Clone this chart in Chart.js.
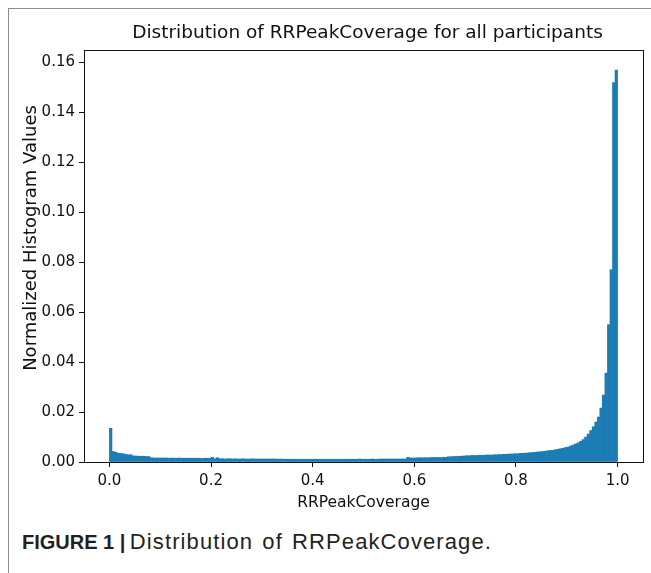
<!DOCTYPE html>
<html>
<head>
<meta charset="utf-8">
<script src="https://cdn.jsdelivr.net/npm/chart.js@4/dist/chart.umd.min.js"></script>
<style>
  html, body { margin: 0; padding: 0; background: #fff; }
  body { width: 651px; height: 573px; position: relative; overflow: hidden; }
  #frame { position: absolute; left: 8px; top: 8px; width: 700px; height: 700px;
           border-top: 1px solid #8c8c8c; border-left: 1px solid #8c8c8c; }
  #chart { position: absolute; left: 0; top: 0; }
  #caption { position: absolute; left: 22px; top: 529px; white-space: nowrap;
             font-family: "Liberation Sans", Arial, sans-serif; color: #231f20; }
  #caption b { font-size: 20px; }
  #caption span { font-size: 22px; letter-spacing: 1.1px; word-spacing: 2px; }
</style>
</head>
<body>
<div id="frame"></div>
<canvas id="chart" width="651" height="524"></canvas>
<div id="caption"><b>FIGURE 1 |</b> <span>Distribution of RRPeakCoverage.</span></div>
<script>
"use strict";

// ── data: 200 bins of width 0.005 over [0, 1] ─────────────────────
const BIN_WIDTH = 0.005;
const X_TICKS = [0.0, 0.2, 0.4, 0.6, 0.8, 1.0];
const Y_TICKS = [0.00, 0.02, 0.04, 0.06, 0.08, 0.10, 0.12, 0.14, 0.16];

// 0.000 – 0.200
const VALUES_A = [
  0.0135, 0.0042, 0.0039, 0.0035, 0.0034, 0.0033, 0.0030, 0.0029, 0.0029, 0.0024,
  0.0024, 0.0023, 0.0023, 0.0023, 0.0022, 0.0022, 0.0017, 0.0016, 0.0016, 0.0016,
  0.0016, 0.0016, 0.0016, 0.0015, 0.0016, 0.0015, 0.0015, 0.0016, 0.0015, 0.0015,
  0.0015, 0.0015, 0.0015, 0.0015, 0.0015, 0.0015, 0.0014, 0.0015, 0.0015, 0.0015,
];
// 0.200 – 0.400
const VALUES_B = [
  0.0019, 0.0013, 0.0017, 0.0013, 0.0013, 0.0012, 0.0013, 0.0013, 0.0012, 0.0013,
  0.0012, 0.0012, 0.0013, 0.0012, 0.0012, 0.0012, 0.0013, 0.0012, 0.0012, 0.0012,
  0.0012, 0.0012, 0.0012, 0.0012, 0.0012, 0.0012, 0.0011, 0.0012, 0.0011, 0.0011,
  0.0011, 0.0011, 0.0011, 0.0011, 0.0011, 0.0011, 0.0011, 0.0011, 0.0011, 0.0011,
];
// 0.400 – 0.600
const VALUES_C = [
  0.0011, 0.0011, 0.0011, 0.0011, 0.0011, 0.0011, 0.0011, 0.0011, 0.0011, 0.0011,
  0.0011, 0.0011, 0.0011, 0.0011, 0.0011, 0.0011, 0.0011, 0.0011, 0.0012, 0.0011,
  0.0011, 0.0011, 0.0011, 0.0012, 0.0011, 0.0011, 0.0012, 0.0012, 0.0012, 0.0012,
  0.0012, 0.0012, 0.0012, 0.0012, 0.0012, 0.0012, 0.0012, 0.0019, 0.0016, 0.0016,
];
// 0.600 – 0.800
const VALUES_D = [
  0.0016, 0.0017, 0.0017, 0.0017, 0.0017, 0.0017, 0.0018, 0.0018, 0.0018, 0.0018,
  0.0018, 0.0019, 0.0019, 0.0021, 0.0021, 0.0022, 0.0022, 0.0023, 0.0023, 0.0024,
  0.0025, 0.0025, 0.0026, 0.0026, 0.0026, 0.0027, 0.0027, 0.0027, 0.0028, 0.0028,
  0.0028, 0.0029, 0.0029, 0.0030, 0.0030, 0.0031, 0.0031, 0.0032, 0.0032, 0.0033,
];
// 0.800 – 1.000
const VALUES_E = [
  0.0033, 0.0034, 0.0035, 0.0035, 0.0036, 0.0037, 0.0038, 0.0039, 0.0040, 0.0041,
  0.0042, 0.0043, 0.0045, 0.0046, 0.0047, 0.0049, 0.0051, 0.0053, 0.0055, 0.0058,
  0.0060, 0.0064, 0.0068, 0.0072, 0.0077, 0.0083, 0.0090, 0.0100, 0.0112, 0.0126,
  0.0141, 0.0160, 0.0180, 0.0216, 0.0268, 0.0356, 0.0550, 0.0770, 0.1520, 0.1570,
];

const BAR_COLOR = "#1c7cb4";
const FONT = "'DejaVu Sans', sans-serif";

const values = [...VALUES_A, ...VALUES_B, ...VALUES_C, ...VALUES_D, ...VALUES_E];
const points = values.map((v, i) => ({ x: (i + 0.5) * BIN_WIDTH, y: v }));

// ── plugins: axes title, y label and the full axes box ───────────
const axesText = {
  id: "axesText",
  afterDraw(chart) {
    const { ctx, chartArea } = chart;
    ctx.save();
    ctx.fillStyle = "#111";
    ctx.textAlign = "center";
    ctx.textBaseline = "middle";
    ctx.font = `18.5px ${FONT}`;
    ctx.fillText("Distribution of RRPeakCoverage for all participants", (chartArea.left + chartArea.right) / 2 + 4, 33);
    // y label sits a little above the axes centre in the reference
    ctx.translate(31, 238);
    ctx.rotate(-Math.PI / 2);
    ctx.font = `18px ${FONT}`;
    ctx.fillText("Normalized Histogram Values", 0, 0);
    ctx.restore();
  },
};

const axesBox = {
  id: "axesBox",
  afterDraw(chart) {
    const { ctx, chartArea: a } = chart;
    ctx.save();
    ctx.strokeStyle = "#111";
    ctx.lineWidth = 1;
    ctx.strokeRect(Math.round(a.left) + 0.5, Math.round(a.top) + 0.5, Math.round(a.right - a.left), Math.round(a.bottom - a.top));
    ctx.restore();
  },
};

new Chart(document.getElementById("chart"), {
  type: "bar",
  data: {
    datasets: [{
      data: points,
      backgroundColor: BAR_COLOR,
      borderWidth: 0,
      barPercentage: 1,
      categoryPercentage: 1,
      grouped: false,
    }],
  },
  options: {
    responsive: false,
    devicePixelRatio: 1,
    animation: false,
    layout: { padding: { top: 50, right: 8, left: 0, bottom: 0 } },
    plugins: { legend: { display: false }, tooltip: { enabled: false } },
    scales: {
      x: {
        type: "linear",
        min: -0.05,
        max: 1.05,
        offset: false,
        afterBuildTicks: (s) => { s.ticks = X_TICKS.map((v) => ({ value: v })); },
        afterFit: (s) => { s.height = 62; },
        ticks: {
          autoSkip: false, maxRotation: 0, padding: 5, color: "#111",
          font: { family: FONT, size: 15 },
          callback: (v) => Number(v).toFixed(1),
        },
        grid: { offset: false, drawOnChartArea: false, tickLength: 5, tickColor: "#111" },
        border: { color: "#111" },
        title: {
          display: true, text: "RRPeakCoverage", color: "#111",
          font: { family: FONT, size: 15.5 }, padding: { top: 0, bottom: 12 },
        },
      },
      y: {
        min: 0,
        max: 0.165,
        afterBuildTicks: (s) => { s.ticks = Y_TICKS.map((v) => ({ value: v })); },
        afterFit: (s) => { s.width = 84; },
        ticks: {
          padding: 4, color: "#111",
          font: { family: FONT, size: 15 },
          callback: (v) => Number(v).toFixed(2),
        },
        grid: { drawOnChartArea: false, tickLength: 5, tickColor: "#111" },
        border: { color: "#111" },
      },
    },
  },
  plugins: [axesText, axesBox],
});
</script>
</body>
</html>
